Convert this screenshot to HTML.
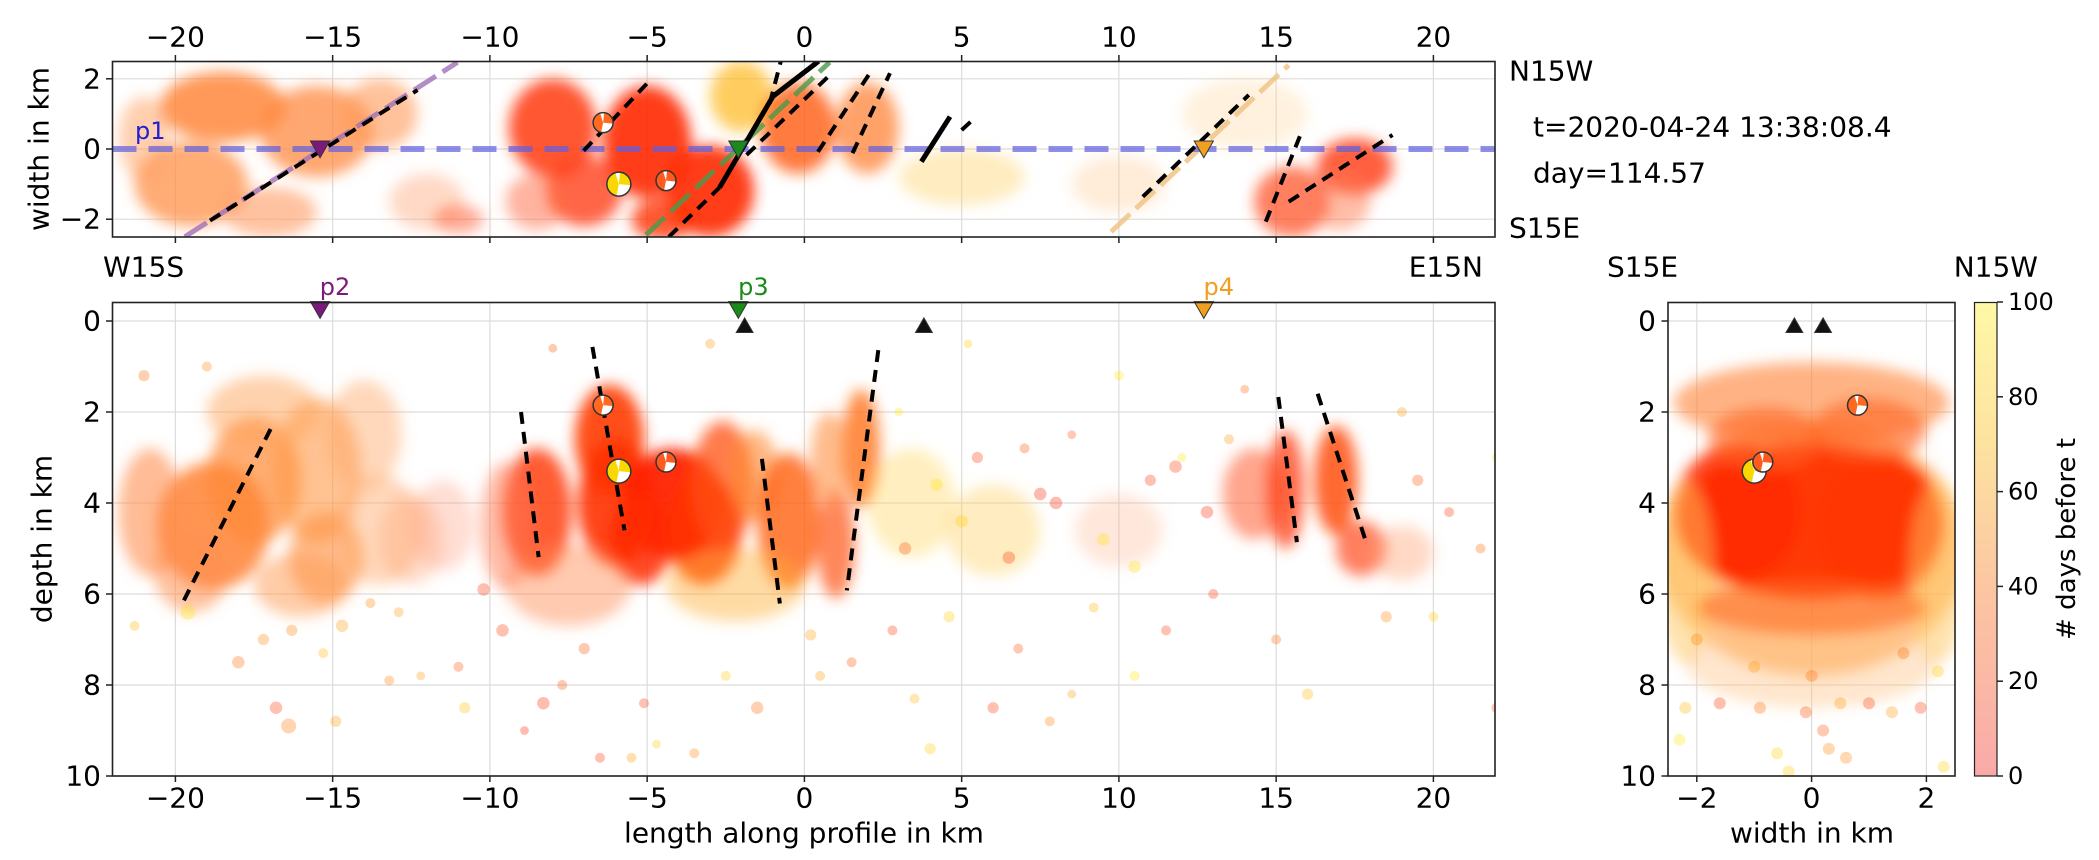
<!DOCTYPE html>
<html><head><meta charset="utf-8"><style>
html,body{margin:0;padding:0;background:#fff;width:2099px;height:860px;overflow:hidden}
svg{display:block;font-family:"DejaVu Sans","Liberation Sans",sans-serif}
</style></head><body>
<svg id="fig" width="2099" height="860" viewBox="0 0 2099 860" xmlns="http://www.w3.org/2000/svg">
<defs>
<filter id="blur" x="-50%" y="-50%" width="200%" height="200%"><feGaussianBlur stdDeviation="7"/></filter>
<clipPath id="clipTop"><rect x="112.5" y="61.5" width="1382.5" height="175.5"/></clipPath>
<clipPath id="clipMain"><rect x="112.5" y="302.5" width="1382.5" height="473.5"/></clipPath>
<clipPath id="clipRight"><rect x="1668" y="302.5" width="287" height="473.5"/></clipPath>
<linearGradient id="cbar" x1="0" y1="1" x2="0" y2="0">
<stop offset="0" stop-color="#f9aaa8"/><stop offset="0.4" stop-color="#fcc6a2"/><stop offset="0.7" stop-color="#fde2a0"/><stop offset="1" stop-color="#fff8a6"/>
</linearGradient>
</defs>
<g id="gTop"></g>
<g id="gMain"></g>
<g id="gRight"></g>
<g id="gCbar"></g>
<g id="gText"></g>
</svg>
<script>
// ---------- data ----------
const xTicks=[-20,-15,-10,-5,0,5,10,15,20];
const xTickLabels=["−20","−15","−10","−5","0","5","10","15","20"];
const wTicksTop=[2,0,-2];
const wTickLabelsTop=["2","0","−2"];
const depthTicks=[0,2,4,6,8,10];
const depthTickLabels=["0","2","4","6","8","10"];
const wTicksRight=[-2,0,2];
const wTickLabelsRight=["−2","0","2"];
const cbTicks=[0,20,40,60,80,100];

// main panel clusters (length km, depth km, rx km, rz km)
const mainClX=[-18.8,-17.5,-15.5,-15.2,-17.2,-13.5,-20.8,-16.0,-19.5,-14.0,-12.5,-8.5,-6.2,-6.0,-4.2,-5.2,-3.2,-2.6,-1.6,-0.5,-2.2,1.8,1.0,-7.5,-9.5,3.4,6.0,10.0,14.3,15.3,16.9,17.7,19.0,-11.5,0.8];
const mainClZ=[4.5,3.5,3.3,5.2,2.0,4.6,4.2,5.8,5.5,2.5,4.8,4.2,2.6,4.0,4.0,4.8,4.6,3.6,3.4,4.4,5.8,2.8,4.9,5.8,4.5,4.0,4.6,4.6,3.8,3.7,3.5,5.0,5.1,4.5,3.0];
const mainClRx=[1.8,1.5,1.4,1.2,1.8,1.4,1.0,1.5,1.2,1.2,1.0,1.1,1.1,1.2,1.6,1.0,1.2,1.0,0.8,1.0,2.2,0.6,0.6,2.0,0.8,1.4,1.5,1.4,1.0,0.6,0.7,0.8,1.0,1.0,0.6];
const mainClRz=[1.4,1.4,1.6,1.0,0.8,1.2,1.4,0.7,0.9,1.2,1.0,1.4,1.2,1.4,1.2,1.0,1.2,1.4,1.0,1.5,0.8,1.3,1.2,0.9,1.4,1.2,1.0,0.8,1.0,1.3,1.2,0.6,0.6,1.0,1.0];
const mainClCol=["#ff7a28","#ff8a38","#ff9a48","#ff9040","#ffa55c","#ffa868","#ff9050","#ff9a50","#ff9050","#ffa868","#ffa070","#ff4010","#ff3a00","#ff3000","#ff2200","#ff2a00","#ff3000","#ff5010","#ff8a30","#ff6014","#ffb030","#ff7218","#ff6020","#ff8a50","#ff7850","#ffd860","#ffd060","#ffb088","#ff6a40","#ff3c10","#ff5010","#ff4818","#ffa070","#ffa080","#ff9040"];
const mainClOp=[0.8,0.7,0.6,0.6,0.5,0.45,0.6,0.5,0.55,0.45,0.35,0.85,0.9,0.9,0.95,0.85,0.85,0.75,0.6,0.8,0.45,0.8,0.75,0.45,0.5,0.4,0.4,0.3,0.6,0.75,0.85,0.7,0.4,0.35,0.6];

// top panel clusters (length km, width km, rx, rw)
const topClX=[-18.5,-15.5,-19.5,-17.0,-13.5,-12,-11,-21,-8.0,-7.0,-5.0,-3.0,-4.5,-2.0,-0.2,2.0,-8.5,5.0,10.0,15.5,17.5,14.0,17.0];
const topClW=[1.2,0.5,-1.0,-1.8,1.0,-1.5,-2.0,0.3,0.6,-1.2,0.2,-1.2,-2.0,1.5,0.6,0.6,-1.5,-0.8,-1.0,-1.5,-0.5,1.0,-1.5];
const topClRx=[2.0,1.8,1.8,1.5,1.2,1.2,0.8,0.8,1.4,1.2,1.4,1.4,1.0,1.0,1.2,1.0,1.0,2.0,1.5,1.2,1.2,2.0,1.0];
const topClRw=[1.0,1.3,1.2,0.7,1.0,0.8,0.4,1.2,1.4,1.0,1.6,1.3,0.6,1.0,1.3,1.3,0.8,0.8,0.8,1.0,0.8,1.0,0.8];
const topClCol=["#ff8030","#ff8a40","#ff9048","#ff9a60","#ff9a58","#ffa070","#ff5a30","#ffa060","#ff3a10","#ff4018","#ff2800","#ff2a00","#ff3000","#ffb820","#ff5a10","#ff7a28","#ff6a40","#ffd060","#ffc080","#ff4820","#ff3a10","#ffd090","#ff7a50"];
const topClOp=[0.8,0.75,0.75,0.6,0.6,0.4,0.5,0.5,0.85,0.8,0.9,0.9,0.8,0.7,0.8,0.7,0.5,0.4,0.3,0.7,0.8,0.3,0.5];

// right panel clusters (width km, depth km, rw, rz)
const rightClW=[0,0,-1.3,1.2,0,-0.8,1.0,0,-2.2,2.2,0];
const rightClZ=[5.0,4.4,4.2,4.5,1.8,2.6,2.4,7.5,5.5,5.5,6.3];
const rightClRw=[2.7,2.3,1.1,1.1,2.4,1.0,1.0,2.2,0.5,0.5,2.0];
const rightClRz=[2.8,1.7,1.5,1.6,0.9,0.7,0.7,1.0,2.0,2.0,0.6];
const rightClCol=["#ffa040","#ff3000","#ff2a00","#ff3400","#ff8a40","#ff6020","#ff6020","#ffc080","#ffc860","#ffc860","#ff6a20"];
const rightClOp=[0.6,0.95,0.8,0.8,0.65,0.6,0.6,0.4,0.5,0.5,0.6];

// sparse events, main panel (length km, depth km, days before t, size)
const spX=[-16.8,-16.4,-14.9,-15.3,-13.2,-18.0,-21.3,-10.8,-8.3,-7.7,-5.1,-8.9,-5.5,-4.7,-11.0,-12.2,-6.5,-3.5,-1.5,0.5,1.5,3.5,4.0,6.0,7.8,8.5,10.5,15.0,16.0,22.0,20.0,21.5,22.0,19.5,19.0,14.0,10.0,8.5,5.2,-8.0,-3.0,-19.0,-21.0,-17.2,-14.7,-12.9,-9.6,-7.0,2.8,4.6,6.8,9.2,11.5,13.0,12.0,-19.6,-16.3,-13.8,-10.2,-2.5,0.2,3.0,5.5,7.0,11.0,13.5,18.5,20.5,4.2,5.0,6.5,8.0,9.5,11.8,12.8,3.2,7.5,10.5];
const spZ=[8.5,8.9,8.8,7.3,7.9,7.5,6.7,8.5,8.4,8.0,8.4,9.0,9.6,9.3,7.6,7.8,9.6,9.5,8.5,7.8,7.5,8.3,9.4,8.5,8.8,8.2,7.8,7.0,8.2,8.5,6.5,5.0,3.0,3.5,2.0,1.5,1.2,2.5,0.5,0.6,0.5,1.0,1.2,7.0,6.7,6.4,6.8,7.2,6.8,6.5,7.2,6.3,6.8,6.0,3.0,6.4,6.8,6.2,5.9,7.8,6.9,2.0,3.0,2.8,3.5,2.6,6.5,4.2,3.6,4.4,5.2,4.0,4.8,3.2,4.2,5.0,3.8,5.4];
const spD=[20,45,60,70,50,40,70,75,15,30,20,10,60,80,30,60,20,50,40,60,30,70,80,20,50,60,90,40,70,30,80,40,90,30,60,40,90,30,80,30,60,50,40,50,60,60,20,30,20,80,30,70,20,20,90,90,50,50,20,80,60,90,20,30,20,60,50,20,90,80,20,10,90,20,15,30,10,90];
const spS=[10,12,9,8,8,10,8,9,10,8,8,7,8,7,8,7,8,8,10,8,8,8,9,9,8,7,8,8,9,8,8,8,7,9,8,7,8,7,7,7,8,8,9,9,10,8,10,9,8,9,8,8,8,8,7,12,9,8,10,8,9,7,9,8,9,8,9,8,10,10,10,10,10,10,10,10,10,10];

// sparse events, right panel (width km, depth km, days)
const rpW=[-2.2,-1.6,-0.9,-0.4,0.3,0.6,1.0,1.4,1.9,2.3,-2.0,0.0,-0.1,0.5,2.2,-2.3,-1.0,1.6,0.2,-0.6];
const rpZ=[8.5,8.4,8.5,9.9,9.4,9.6,8.4,8.6,8.5,9.8,7.0,7.8,8.6,8.4,7.7,9.2,7.6,7.3,9.0,9.5];
const rpD=[70,20,40,80,50,50,20,60,20,80,50,40,30,60,80,90,60,40,30,80];

// profile markers & stations
const profX=[-15.4,-2.1,12.7];
const profNames=["p2","p3","p4"];
const profCol=["#7b1a7b","#1a8a1a","#f0a020"];
const stationX=[-1.9,3.8];
const stationW=[-0.3,0.2];

// fault traces in depth section [x1,z1,x2,z2]
const mainFaults=[[-19.73,6.14,-16.86,2.22],[-9.01,2.0,-8.45,5.19],[-6.74,0.57,-5.72,4.6],[-1.35,3.03,-0.78,6.21],[2.35,0.64,1.35,5.92],[15.07,1.67,15.66,4.86],[16.32,1.6,17.86,4.86]];
// fault traces in map view [x1,w1,x2,w2]
const topFaults=[[-18.9,-2.04,-12.3,1.68],[-7.02,-0.05,-5.0,1.87],[-4.31,-2.5,-2.7,-1.1],[-1.1,1.3,-0.75,2.5],[-1.84,-0.17,0.8,2.1],[0.43,-0.08,2.08,2.16],[1.53,-0.12,2.72,2.16],[5.0,0.54,5.46,0.92],[10.76,-1.36,14.13,1.54],[14.67,-2.07,15.77,0.4],[15.4,-1.5,18.7,0.4]];
const topSolid=[[-2.7,-1.1],[-1.0,1.5],[0.45,2.5]];
const topSolid2=[[3.72,-0.36],[4.63,0.92]];
const profLines=[[-19.7,-2.5,-11.03,2.47],[-5.04,-2.45,0.8,2.47],[9.75,-2.36,15.4,2.39]];
const profLineCol=["#a070b8","#4a9a4a","#f0c080"];

// focal mechanisms
const mechX=[-6.4,-5.9,-4.4];
const mechZ=[1.85,3.3,3.1];
const mechW=[0.75,-1.0,-0.9];
const mechRW=[0.8,-1.0,-0.85];
const mechCol=["#ff6a20","#f8d800","#ff5a20"];
const mechR=[10,12,10];

// ---------- scales ----------
const X=v=>804.4+v*31.45;
const WT=v=>149-v*35.1;
const Z=v=>321+v*45.5;
const WR=v=>1811.6+v*57.4;
const CB=v=>776-v*4.74;
const NS="http://www.w3.org/2000/svg";
function mk(tag,attrs,parent){const e=document.createElementNS(NS,tag);for(const k in attrs)e.setAttribute(k,attrs[k]);parent.appendChild(e);return e;}
function autumn(d){const g=Math.round(255*d/100);return "rgb(255,"+g+",0)";}
const gTop=document.getElementById('gTop'),gMain=document.getElementById('gMain'),gRight=document.getElementById('gRight'),gCbar=document.getElementById('gCbar'),gText=document.getElementById('gText');

function text(parent,x,y,s,anchor,size,fill,name){const t=mk('text',{x:x,y:y,'text-anchor':anchor,'font-size':size,fill:fill||'#000','dominant-baseline':'central'},parent);t.textContent=s;return t;}

// ---------- grids ----------
function gridV(parent,xs,fx,y1,y2){xs.forEach(v=>{const l=mk('line',{x1:fx(v),x2:fx(v),y1:y1,y2:y2,stroke:'#dcdcdc','stroke-width':1.2},parent);});}
function gridH(parent,ys,fy,x1,x2){ys.forEach(v=>{const l=mk('line',{x1:x1,x2:x2,y1:fy(v),y2:fy(v),stroke:'#dcdcdc','stroke-width':1.2},parent);});}
gridV(gTop,xTicks,X,61.5,237);gridH(gTop,wTicksTop,WT,112.5,1495);
gridV(gMain,xTicks,X,302.5,776);gridH(gMain,depthTicks,Z,112.5,1495);
gridV(gRight,wTicksRight,WR,302.5,776);gridH(gRight,depthTicks,Z,1668,1955);

// ---------- clusters ----------
function clusters(parent,clip,xs,ys,rxs,rys,cols,ops,fx,fy,sx,sy,name){
 const g=mk('g',{'clip-path':'url(#'+clip+')'},parent);const gb=mk('g',{filter:'url(#blur)'},g);
 for(let i=0;i<xs.length;i++){const e=mk('ellipse',{cx:fx(xs[i]),cy:fy(ys[i]),rx:rxs[i]*sx,ry:rys[i]*sy,fill:cols[i],'fill-opacity':ops[i]},gb);
 }
 return g;}
const cTop=clusters(gTop,'clipTop',topClX,topClW,topClRx,topClRw,topClCol,topClOp,X,WT,31.45,35.1,'event-cloud');
const cMain=clusters(gMain,'clipMain',mainClX,mainClZ,mainClRx,mainClRz,mainClCol,mainClOp,X,Z,31.45,45.5,'event-cloud');
const cRight=clusters(gRight,'clipRight',rightClW,rightClZ,rightClRw,rightClRz,rightClCol,rightClOp,WR,Z,57.4,45.5,'event-cloud');

for(let i=0;i<spX.length;i++){const c=mk('circle',{cx:X(spX[i]),cy:Z(spZ[i]),r:spS[i]/1.6,fill:autumn(spD[i]),'fill-opacity':0.3},cMain);
}
for(let i=0;i<rpW.length;i++){const c=mk('circle',{cx:WR(rpW[i]),cy:Z(rpZ[i]),r:6,fill:autumn(rpD[i]),'fill-opacity':0.3},cRight);
}

// ---------- lines ----------
profLines.forEach((p,i)=>{const l=mk('line',{x1:X(p[0]),y1:WT(p[1]),x2:X(p[2]),y2:WT(p[3]),stroke:profLineCol[i],'stroke-width':5,'stroke-opacity':0.8,'stroke-dasharray':'26 8'},cTop);
});
const bl=mk('line',{x1:112.5,x2:1495,y1:WT(0),y2:WT(0),stroke:'#6060e0','stroke-opacity':0.7,'stroke-width':6,'stroke-dasharray':'24 12'},cTop);

topFaults.forEach(f=>{const l=mk('line',{x1:X(f[0]),y1:WT(f[1]),x2:X(f[2]),y2:WT(f[3]),stroke:'#000','stroke-width':4,'stroke-dasharray':'12 8'},cTop);
});
[topSolid,topSolid2].forEach(pts=>{const p=mk('polyline',{points:pts.map(q=>X(q[0])+','+WT(q[1])).join(' '),fill:'none',stroke:'#000','stroke-width':5},cTop);
});
mainFaults.forEach(f=>{const l=mk('line',{x1:X(f[0]),y1:Z(f[1]),x2:X(f[2]),y2:Z(f[3]),stroke:'#000','stroke-width':4,'stroke-dasharray':'12 8'},cMain);
});

// ---------- markers ----------
function tri(parent,x,y,down,col,s,name){const h=s;const pts=down?[[x-s*0.6,y-h*0.5],[x+s*0.6,y-h*0.5],[x,y+h*0.55]]:[[x-s*0.6,y+h*0.5],[x+s*0.6,y+h*0.5],[x,y-h*0.55]];
const p=mk('polygon',{points:pts.map(q=>q.join(',')).join(' '),fill:col,stroke:'#333','stroke-width':1},parent);}
profX.forEach((v,i)=>{tri(gTop,X(v),WT(0),true,profCol[i],16,'profile-marker-'+profNames[i]);
tri(gMain,X(v),Z(-0.25),true,profCol[i],16,'profile-marker-'+profNames[i]);
text(gText,X(v)+15,287,profNames[i],'middle',24,profCol[i],'profile-label-'+profNames[i]);});
stationX.forEach(v=>tri(gMain,X(v),Z(0.1),false,'#111',14,'station-marker'));
stationW.forEach(v=>tri(gRight,WR(v),Z(0.1),false,'#111',14,'station-marker'));

function mech(parent,cx,cy,r,col){const g=mk('g',{},parent);
mk('circle',{cx:cx,cy:cy,r:r,fill:'#fff'},g);
mk('path',{d:`M${cx-r*0.3},${cy-r*0.95} A${r},${r} 0 0 0 ${cx-r*0.2},${cy+r*0.98} L${cx},${cy} Z`,fill:col},g);
mk('path',{d:`M${cx+r*0.1},${cy-r} A${r},${r} 0 0 1 ${cx+r},${cy+r*0.1} L${cx},${cy} Z`,fill:col},g);
mk('circle',{cx:cx,cy:cy,r:r,fill:'none',stroke:'#333','stroke-width':1.5},g);}
for(let i=0;i<mechX.length;i++){mech(gMain,X(mechX[i]),Z(mechZ[i]),mechR[i],mechCol[i]);mech(gTop,X(mechX[i]),WT(mechW[i]),mechR[i],mechCol[i]);mech(gRight,WR(mechRW[i]),Z(mechZ[i]),mechR[i],mechCol[i]);}

// ---------- frames & ticks ----------
function frame(parent,x,y,w,h,name){const r=mk('rect',{x:x,y:y,width:w,height:h,fill:'none',stroke:'#222','stroke-width':1.6},parent);}
frame(gTop,112.5,61.5,1382.5,175.5,'map-frame');frame(gMain,112.5,302.5,1382.5,473.5,'section-frame');frame(gRight,1668,302.5,287,473.5,'cross-frame');
xTicks.forEach((v,i)=>{mk('line',{x1:X(v),x2:X(v),y1:61.5,y2:55,stroke:'#222','stroke-width':1.5},gTop);mk('line',{x1:X(v),x2:X(v),y1:237,y2:243,stroke:'#222','stroke-width':1.5},gTop);
text(gText,X(v),37,xTickLabels[i],'middle',28,'#000','top-x-tick-label');
mk('line',{x1:X(v),x2:X(v),y1:776,y2:782,stroke:'#222','stroke-width':1.5},gMain);
text(gText,X(v),798,xTickLabels[i],'middle',28,'#000','x-tick-label');});
wTicksTop.forEach((v,i)=>{mk('line',{x1:106,x2:112.5,y1:WT(v),y2:WT(v),stroke:'#222','stroke-width':1.5},gTop);text(gText,101,WT(v),wTickLabelsTop[i],'end',28,'#000','y-tick-label');});
depthTicks.forEach((v,i)=>{mk('line',{x1:106,x2:112.5,y1:Z(v),y2:Z(v),stroke:'#222','stroke-width':1.5},gMain);text(gText,101,Z(v),depthTickLabels[i],'end',28,'#000','y-tick-label');
mk('line',{x1:1661.5,x2:1668,y1:Z(v),y2:Z(v),stroke:'#222','stroke-width':1.5},gRight);text(gText,1656,Z(v),depthTickLabels[i],'end',28,'#000','y-tick-label');});
wTicksRight.forEach((v,i)=>{mk('line',{x1:WR(v),x2:WR(v),y1:776,y2:782,stroke:'#222','stroke-width':1.5},gRight);text(gText,WR(v),798,wTickLabelsRight[i],'middle',28,'#000','x-tick-label');});

const cb=mk('rect',{x:1974.5,y:302.5,width:22.5,height:473.5,fill:'url(#cbar)',stroke:'#222','stroke-width':1.2},gCbar);

cbTicks.forEach(v=>{mk('line',{x1:1997,x2:2003,y1:CB(v),y2:CB(v),stroke:'#222','stroke-width':1.5},gCbar);text(gText,2008,CB(v),String(v),'start',24,'#000','colorbar-tick-label');});

text(gText,X(-20.8),131,'p1','middle',24,'#2020d0','profile-label-p1');
text(gText,103,267,'W15S','start',28,'#000','direction-label-west');
text(gText,1483,267,'E15N','end',28,'#000','direction-label-east');
text(gText,1607,267,'S15E','start',28,'#000','direction-label-south');
text(gText,2038,267,'N15W','end',28,'#000','direction-label-north');
text(gText,1509,71,'N15W','start',28,'#000','direction-label-north');
text(gText,1509,228,'S15E','start',28,'#000','direction-label-south');
text(gText,1533,127,'t=2020-04-24 13:38:08.4','start',28,'#000','time-label');
text(gText,1533,173,'day=114.57','start',28,'#000','day-label');
text(gText,804,833,'length along profile in km','middle',28,'#000','x-axis-title');
text(gText,1812,833,'width in km','middle',28,'#000','right-x-axis-title');
const yt1=text(gText,0,0,'width in km','middle',28,'#000','top-y-axis-title');yt1.setAttribute('transform','translate(39,149) rotate(-90)');
const yt2=text(gText,0,0,'depth in km','middle',28,'#000','y-axis-title');yt2.setAttribute('transform','translate(42,539) rotate(-90)');
const yt3=text(gText,0,0,'# days before t','middle',26,'#000','colorbar-title');yt3.setAttribute('transform','translate(2067,539) rotate(-90)');
</script>
</body></html>
